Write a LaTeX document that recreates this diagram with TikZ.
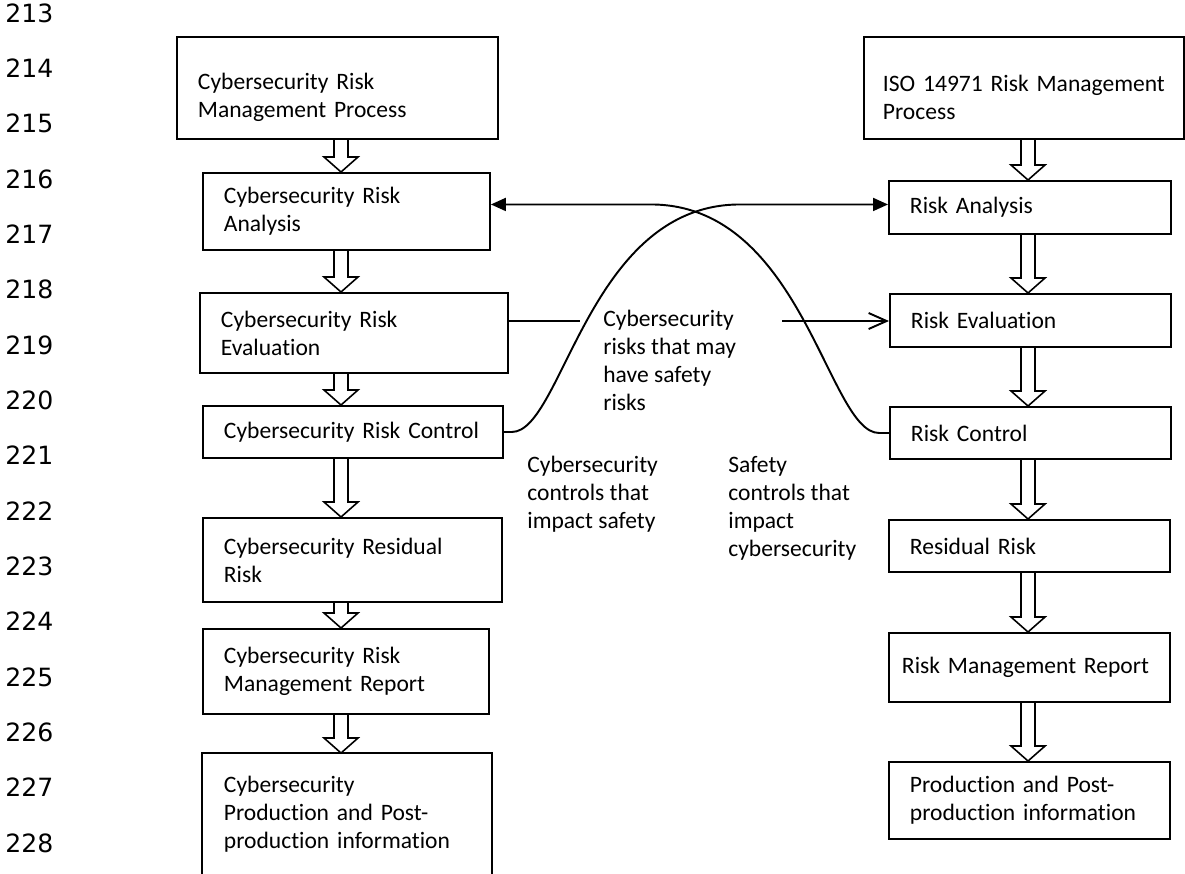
\documentclass[tikz,border=0pt]{standalone}
\usepackage{fontspec}
\setmainfont{Carlito}[Ligatures=NoCommon]
\newfontfamily\linenofont{DejaVu Sans}
\usetikzlibrary{calc,arrows.meta}

% hollow block arrow: column, upper box, lower box
\newcommand{\hollowarrow}[3]{%
  \draw[hollow] ($(#1 |- #2.south)+(-7,0)$) -- ($(#1 |- #3.north)+(-7,-15)$)
    -- ++(-10,0) -- (#1 |- #3.north) -- ++(17,-15) -- ++(-10,0)
    -- ($(#1 |- #2.south)+(7,0)$);
}

\begin{document}
\begin{tikzpicture}[x=0.02cm, y=-0.02cm,
  box/.style={draw, line width=1.1pt, anchor=north west, align=left,
    inner xsep=0.42cm, inner ysep=0pt, font=\fontsize{13.4}{15.9}\selectfont},
  note/.style={anchor=north west, align=left, inner sep=0pt,
    font=\fontsize{13.4}{15.9}\selectfont},
  lineno/.style={anchor=west, inner sep=0pt,
    font=\linenofont\fontsize{14.3}{17}\selectfont},
  hollow/.style={line width=0.9pt},
  link/.style={line width=1.1pt},
  ]

  \fill[white] (0,0) rectangle (1185,873);
  \useasboundingbox (0,0) rectangle (1185,873);

  % line numbers
  \foreach \n [count=\i from 0] in {213,...,228}
    \node[lineno] (n\n) at (5,{13+55.33*\i}) {\n};

  % cybersecurity column
  \node[box, minimum height=2.04cm, text width=5.58cm] (cproc) at (176,36) {\rule{0pt}{20pt}Cybersecurity Risk\\Management Process};
  \node[box, minimum height=1.54cm, text width=4.90cm] (cana) at (202,172) {Cybersecurity Risk\\Analysis};
  \node[box, minimum height=1.60cm, text width=5.32cm] (ceval) at (199,292) {Cybersecurity Risk\\Evaluation};
  \node[box, minimum height=1.04cm, text width=5.16cm] (cctrl) at (202,405) {Cybersecurity Risk Control};
  \node[box, minimum height=1.68cm, text width=5.14cm] (cres) at (202,517) {Cybersecurity Residual\\Risk};
  \node[box, minimum height=1.70cm, text width=4.88cm] (crep) at (202,628) {Cybersecurity Risk\\Management Report};
  \node[box, draw=none, minimum height=2.40cm, text width=4.92cm] (cprod) at (202,753) {Cybersecurity\\Production and Post-\\production information};
  \draw[link] (cprod.south west) -- (cprod.north west) -- (cprod.north east) -- (cprod.south east);

  % ISO 14971 column
  \node[box, minimum height=2.04cm, text width=5.64cm, inner xsep=0.38cm] (iproc) at (863,36) {\rule{0pt}{20pt}ISO 14971 Risk Management\\Process};
  \node[box, minimum height=1.06cm, text width=4.80cm] (iana) at (888,180) {Risk Analysis};
  \node[box, minimum height=1.06cm, text width=4.78cm] (ieval) at (889,293) {Risk Evaluation};
  \node[box, minimum height=1.04cm, text width=4.78cm] (ictrl) at (889,406) {Risk Control};
  \node[box, minimum height=1.04cm, text width=4.78cm] (ires) at (888,519) {Residual Risk};
  \node[box, minimum height=1.38cm, text width=5.10cm, inner xsep=0.26cm] (irep) at (888,632) {Risk Management Report};
  \node[box, minimum height=1.54cm, text width=4.78cm] (iprod) at (888,761) {Production and Post-\\production information};

  \coordinate (lcol) at (341,0);
  \coordinate (rcol) at (1028,0);
  \foreach \a/\b in {cproc/cana, cana/ceval, ceval/cctrl, cctrl/cres, cres/crep, crep/cprod}
    \hollowarrow{lcol}{\a}{\b};
  \foreach \a/\b in {iproc/iana, iana/ieval, ieval/ictrl, ictrl/ires, ires/irep, irep/iprod}
    \hollowarrow{rcol}{\a}{\b};

  % labels in between
  \node[note] (risktext) at (603,310) {Cybersecurity\\risks that may\\have safety\\risks};
  \node[note] (ctrltext) at (527,456) {Cybersecurity\\controls that\\impact safety};
  \node[note] (safetext) at (728,456) {Safety\\controls that\\impact\\cybersecurity};

  % crossing links
  \draw[link, -{Triangle[length=0.3cm, width=0.26cm]}] (cctrl.east) -- ++(8,0)
    .. controls ($(cctrl.east)+(59,0)$) and ($(iana.west)+(-300,-3)$) .. ($(iana.west)+(-148,-3)$)
    -- ($(iana.west)+(0,-3)$);
  \draw[link, -{Triangle[length=0.3cm, width=0.26cm]}] (ictrl.west) -- ++(-10,0)
    .. controls ($(ictrl.west)+(-61,0)$) and ($(cana.east)+(312,-7)$) .. ($(cana.east)+(160,-7)$)
    -- ($(cana.east)+(0,-7)$);

  % evaluation link
  \coordinate (gapL) at (580,321);
  \coordinate (gapR) at (782,321);
  \draw[link] (ceval.east |- gapL) -- (gapL);
  \draw[link, -{Straight Barb[length=0.36cm, width=0.32cm]}] (gapR) -- (ieval.west |- gapR);

\end{tikzpicture}
\end{document}
